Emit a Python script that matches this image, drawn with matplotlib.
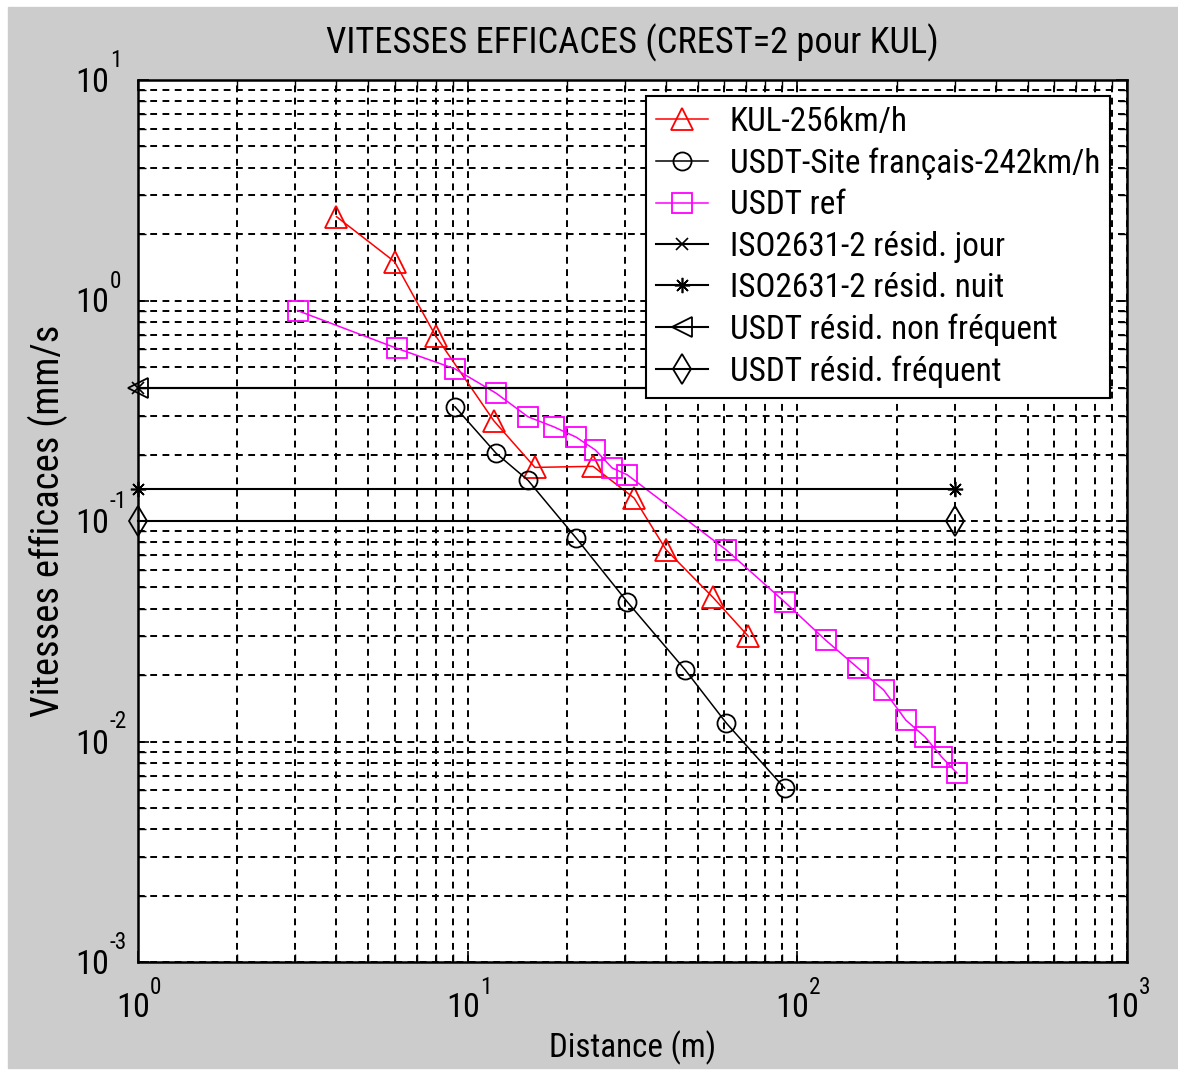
import numpy as np
import matplotlib.pyplot as plt
import matplotlib.font_manager as fm
from matplotlib.patches import Rectangle
from matplotlib.textpath import TextPath

FT = 0.3048

# KUL-256km/h
kul_x = [4, 6, 8, 12, 16, 24, 32, 40, 55.5, 71]
kul_y = [2.4, 1.5, 0.69, 0.285, 0.175, 0.177, 0.127, 0.074, 0.045, 0.030]

# USDT site francais (distances in feet)
usdt_ft = [30, 40, 50, 70, 100, 150, 200, 300]
usdt_y = [0.33, 0.203, 0.153, 0.0837, 0.043, 0.0211, 0.0121, 0.00615]

# USDT ref (distances in feet)
ref_ft = [10, 20, 30, 40, 50, 60, 70, 80, 90, 100, 200, 300, 400, 500, 600, 700, 800, 900, 1000]
ref_y = [0.9, 0.607, 0.49, 0.38, 0.297, 0.267, 0.24, 0.21, 0.174, 0.162,
         0.0738, 0.043, 0.0288, 0.0216, 0.0171, 0.0125, 0.0105, 0.0085, 0.0072]

lim_x = [1, 300]
iso_jour = [0.4, 0.4]
iso_nuit = [0.14, 0.14]
usdt_nonfreq = [0.4, 0.4]
usdt_freq = [0.1, 0.1]

xdecades = [0, 1, 2, 3]
ydecades = [-3, -2, -1, 0, 1]

title = "VITESSES EFFICACES (CREST=2 pour KUL)"
xlab = "Distance (m)"
ylab = "Vitesses efficaces (mm/s"
labels = ["KUL-256km/h", "USDT-Site français-242km/h", "USDT ref",
          "ISO2631-2 résid. jour", "ISO2631-2 résid. nuit",
          "USDT résid. non fréquent", "USDT résid. fréquent"]

# look for a narrow font (matlab text is condensed)
names = {f.name for f in fm.fontManager.ttflist}
fam = None
stretch = 'normal'
for n in ['Liberation Sans Narrow', 'Roboto Condensed', 'Noto Sans Condensed',
          'Open Sans Condensed', 'DejaVu Sans Condensed']:
    if n in names:
        fam = n
        break
if fam is None:
    for f in fm.fontManager.ttflist:
        if f.stretch in ('condensed', 'semi-condensed') and f.style == 'normal' \
                and f.weight in (400, 'normal', 'regular') and 'CJK' not in f.name:
            fam = f.name
            stretch = f.stretch
            break
if fam is None:
    fam = 'Liberation Sans'

plt.rcParams['font.family'] = [fam, 'DejaVu Sans']
plt.rcParams['font.stretch'] = stretch

fig = plt.figure(figsize=(11.78, 10.73), dpi=100, facecolor='white')
fig.patches.append(Rectangle((8/1178, 5/1073), 1170/1178, 1061/1073,
                             transform=fig.transFigure, color='#cccccc', zorder=-10))
ax = fig.add_axes([138/1178, 111/1073, 989/1178, 882/1073])
ax.set_facecolor('white')

rend = fig.canvas.get_renderer()
P = 0.72  # points per pixel

def fit(s, target):
    # font size (pt) giving a text width of target px
    t = fig.text(0, 0, s, fontsize=10)
    w = t.get_window_extent(renderer=rend).width
    t.remove()
    return 10*target/w

def fit_h(s, target):
    # font size (pt) giving a glyph height of target px
    tp = TextPath((0, 0), s, size=10, prop=fm.FontProperties(family=fam, stretch=stretch))
    return 10*target*P/tp.get_extents().height

fs_title = fit(title, 612)
fs_xlab = fit(xlab, 166)
fs_ylab = fit(ylab, 387)
fs_leg = fit(labels[1], 370)
fs_tick = fit_h("10", 25)
fs_px = fs_leg/P

lw = 1.1
mew = 1.3
ax.plot(kul_x, kul_y, '-^', color='#ff0000', lw=lw, ms=16, mew=mew, mfc='none', label=labels[0])
ax.plot(np.array(usdt_ft)*FT, usdt_y, '-o', color='k', lw=lw, ms=13, mew=mew, mfc='none', label=labels[1])
ax.plot(np.array(ref_ft)*FT, ref_y, '-s', color='#ff00ff', lw=lw, ms=14, mew=mew, mfc='none', label=labels[2])
ax.plot(lim_x, iso_jour, '-x', color='k', lw=1.5, ms=8, mew=1.2, label=labels[3], clip_on=False)
ax.plot(lim_x, iso_nuit, '-', marker=(8, 2, 0), color='k', lw=1.5, ms=11, mew=1.2,
        label=labels[4], clip_on=False)
ax.plot(lim_x, usdt_nonfreq, '-<', color='k', lw=1.5, ms=14, mew=mew, mfc='none',
        label=labels[5], clip_on=False)
ax.plot(lim_x, usdt_freq, '-d', color='k', lw=1.5, ms=15, mew=mew, mfc='none',
        label=labels[6], clip_on=False)

ax.set_xscale('log')
ax.set_yscale('log')
ax.set_xlim(1, 1000)
ax.set_ylim(1e-3, 10)

ax.grid(True, which='both', color='k', ls=(0, (3.5, 2.8)), lw=1.4)
ax.tick_params(which='both', direction='in', top=True, right=True, colors='k',
               labelbottom=False, labelleft=False)
ax.tick_params(which='major', length=8, width=1.2)
ax.tick_params(which='minor', length=6, width=1.0)
for s in ax.spines.values():
    s.set_linewidth(1.8)
    s.set_zorder(3)

# matlab-like decade labels: big "10" with the exponent above it
for e in xdecades:
    ax.annotate("10", xy=(10.0**e, 0), xycoords=('data', 'axes fraction'),
                xytext=(12*P, -55*P), textcoords='offset points',
                ha='right', va='baseline', fontsize=fs_tick)
    ax.annotate(str(e), xy=(10.0**e, 0), xycoords=('data', 'axes fraction'),
                xytext=(12*P, -32*P), textcoords='offset points',
                ha='left', va='baseline', fontsize=fs_tick*0.68)
for e in ydecades:
    ax.annotate("10", xy=(0, 10.0**e), xycoords=('axes fraction', 'data'),
                xytext=(-29*P, -12*P), textcoords='offset points',
                ha='right', va='baseline', fontsize=fs_tick)
    ax.annotate(str(e), xy=(0, 10.0**e), xycoords=('axes fraction', 'data'),
                xytext=(-28*P, 13*P), textcoords='offset points',
                ha='left', va='baseline', fontsize=fs_tick*0.68)

ax.set_title(title, fontsize=fs_title, pad=19)
ax.set_xlabel(xlab, fontsize=fs_xlab, va='top')
ax.xaxis.set_label_coords(0.5, (962 - 1030)/882)
ax.set_ylabel(ylab, fontsize=fs_ylab)
ax.yaxis.set_label_coords((68 - 138)/989, 0.5)

def make_legend(ls):
    return ax.legend(loc='upper right', bbox_to_anchor=(0.983, 0.982), borderaxespad=0,
                     fontsize=fs_leg, numpoints=1, handlelength=52/fs_px, handletextpad=22/fs_px,
                     labelspacing=ls, borderpad=10/fs_px, fancybox=False, framealpha=1,
                     edgecolor='k')

# fit legend height to the reference (~302 px)
leg = make_legend(0.3)
fig.canvas.draw()
h = leg.get_window_extent(renderer=fig.canvas.get_renderer()).height
leg.remove()
leg = make_legend(max(0.0, 0.3 + (302 - h)/(6*fs_px)))
leg.get_frame().set_linewidth(1.5)

fig.savefig("out.png", dpi=100, facecolor=fig.get_facecolor())
